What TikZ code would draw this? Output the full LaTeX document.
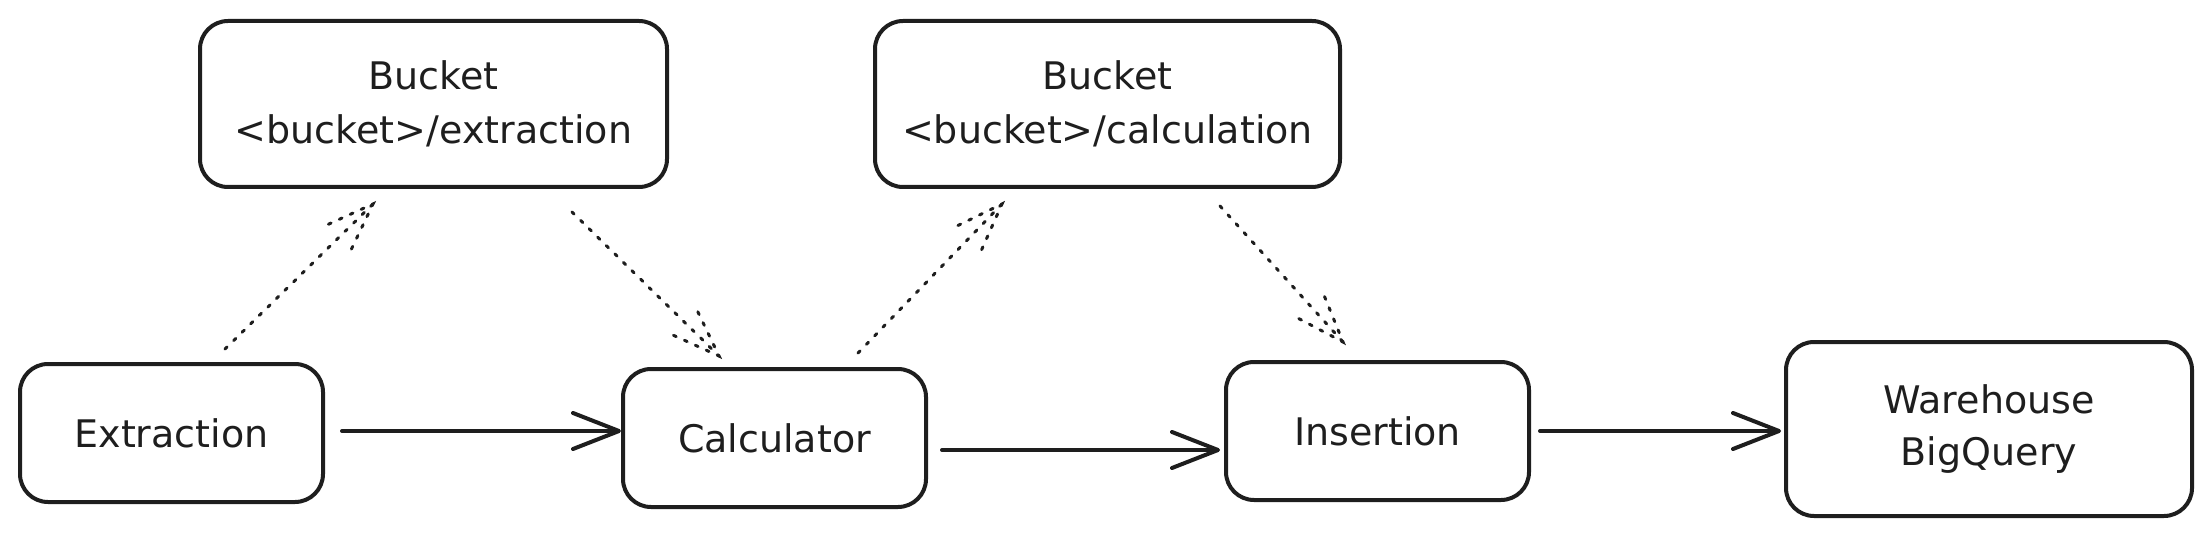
\documentclass[tikz,border=0pt]{standalone}
\usepackage{fontspec}
\setmainfont{DejaVu Sans}
\usetikzlibrary{arrows.meta,calc}
\definecolor{ink}{HTML}{1E1E1E}
\tikzset{
  box/.style={draw=ink, line width=4pt, rounded corners=28pt, inner sep=0pt,
    align=center, text=ink, font=\fontsize{38}{54}\selectfont},
  arr/.style={draw=ink, line width=4pt, line cap=round,
    -{Straight Barb[length=46pt,width=36pt,round]}},
  dotline/.style={draw=ink, line width=3pt, line cap=round, dash pattern=on 3pt off 9pt},
}
\begin{document}
\begin{tikzpicture}[x=1pt,y=1pt]
\useasboundingbox (0,0) rectangle (2210,536);
\node[box, minimum width=467pt, minimum height=166pt] (b1) at (433.5,432) {Bucket\\<bucket>/extraction};
\node[box, minimum width=465pt, minimum height=166pt] (b2) at (1107.5,432) {Bucket\\<bucket>/calculation};
\node[box, minimum width=303pt, minimum height=138pt] (ext) at (171.5,103) {Extraction};
\node[box, minimum width=303pt, minimum height=138pt] (calc) at (774.5,98) {Calculator};
\node[box, minimum width=303pt, minimum height=138pt] (ins) at (1377.5,105) {Insertion};
\node[box, minimum width=406pt, minimum height=174pt, font=\fontsize{38}{52}\selectfont] (wh) at (1989,107) {Warehouse\\BigQuery};

% solid arrows
\coordinate (a1) at ($(ext.east)+(17,2)$);
\draw[arr] (a1) -- (a1 -| calc.west);
\coordinate (a2) at ($(calc.east)+(14,-12)$);
\draw[arr] (a2) -- ($(a2 -| ins.west)+(-4,0)$);
\coordinate (a3) at ($(ins.east)+(9,0)$);
\draw[arr] (a3) -- ($(a3 -| wh.west)+(-3,0)$);

% dotted arrows
\coordinate (d1s) at ($(ext.north)+(53.5,13)$);
\coordinate (d1e) at ($(b1.south)+(-60.5,-15)$);
\coordinate (d2s) at ($(b1.south)+(138.5,-23)$);
\coordinate (d2e) at ($(calc.north)+(-55.5,11)$);
\coordinate (d3s) at ($(calc.north)+(83.5,14)$);
\coordinate (d3e) at ($(b2.south)+(-105.5,-15)$);
\coordinate (d4s) at ($(b2.south)+(112.5,-17)$);
\coordinate (d4e) at ($(ins.north)+(-34.5,18)$);
\foreach \s/\e in {d1s/d1e, d2s/d2e, d3s/d3e, d4s/d4e} {
  \draw[dotline] (\s) -- (\e);
  \draw[dotline] ($(\e)!50pt!20:(\s)$) -- (\e) -- ($(\e)!50pt!-20:(\s)$);
}
\end{tikzpicture}
\end{document}
